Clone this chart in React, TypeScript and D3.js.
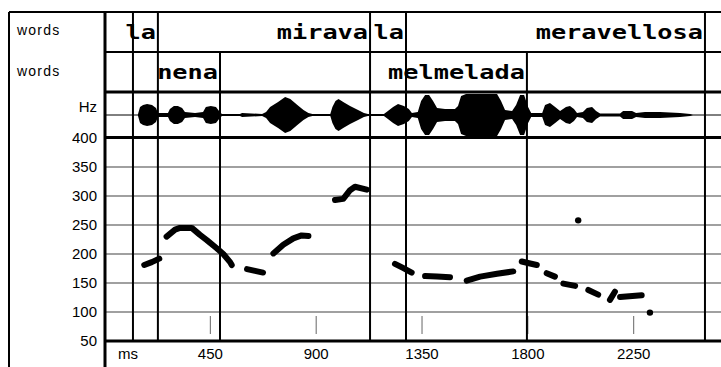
import * as d3 from "d3";

// word tiers (ms)
const TIER1_BOUNDS = [121, 227, 1129, 1282, 2553];
const TIER1_WORDS = [
  { word: "la", end: 227 },
  { word: "mirava", end: 1129 },
  { word: "la", end: 1282 },
  { word: "meravellosa", end: 2553 },
];
const TIER2_BOUNDS = [121, 227, 491, 1129, 1282, 1796, 2553];
const TIER2_WORDS = [
  { word: "nena", end: 491 },
  { word: "melmelada", end: 1796 },
];

const MS_TICKS = [450, 900, 1350, 1800, 2250];
const HZ_TICKS = [50, 100, 150, 200, 250, 300, 350, 400];

// waveform envelope (ms, relative amplitude 0-100)
const ENV_MS = [
  142, 151, 164, 181, 202, 219, 227, 270, 278, 295, 312, 330, 342, 385, 419, 431, 452, 474, 487, 499,
  576, 585, 670, 687, 704, 738, 768, 790, 820, 846, 867, 884, 960, 969, 982, 995, 1015, 1044, 1078, 1103,
  1120, 1188, 1205, 1227, 1248, 1273, 1294, 1307, 1332, 1346, 1363, 1380, 1397, 1414, 1448, 1490, 1503, 1516, 1537, 1563,
  1597, 1639, 1669, 1686, 1703, 1733, 1750, 1767, 1784, 1801, 1814, 1861, 1873, 1894, 1916, 1937, 1962, 1979, 1996, 2009,
  2034, 2051, 2073, 2090, 2107, 2192, 2205, 2243, 2260, 2298, 2362, 2447, 2490, 2502,
];
const ENV_AMP = [
  2, 38, 48, 52, 48, 33, 10, 10, 29, 43, 43, 33, 14, 10, 14, 38, 43, 38, 19, 5,
  5, 10, 5, 14, 38, 62, 86, 76, 48, 24, 10, 5, 5, 38, 67, 76, 62, 43, 24, 10,
  5, 5, 19, 38, 52, 43, 29, 10, 14, 67, 95, 95, 67, 33, 29, 29, 43, 90, 100, 100,
  100, 100, 100, 67, 24, 19, 48, 95, 95, 38, 10, 10, 48, 57, 38, 19, 38, 43, 29, 10,
  14, 33, 38, 19, 7, 7, 19, 19, 10, 14, 14, 10, 5, 0,
];

// pitch track (ms, Hz)
const PITCH_SEGMENTS: [number, number][][] = [
  [[169, 181], [201, 186], [233, 192]],
  [[264, 230], [300, 242], [321, 245], [371, 245], [406, 233], [435, 224], [477, 210], [505, 200], [534, 186], [541, 181]],
  [[606, 174], [640, 171], [674, 168]],
  [[718, 201], [760, 216], [803, 227], [838, 232], [867, 231]],
  [[980, 293], [1015, 295], [1044, 310], [1065, 316], [1115, 311]],
  [[1235, 183], [1269, 176], [1306, 168]],
  [[1363, 162], [1414, 161], [1469, 160]],
  [[1540, 154], [1597, 161], [1669, 166], [1738, 170]],
  [[1774, 187], [1805, 184], [1838, 181]],
  [[1880, 167], [1915, 161]],
  [[1951, 149], [2001, 145]],
  [[2057, 138], [2099, 130]],
  [[2149, 121], [2170, 135]],
  [[2192, 126], [2284, 129]],
];
const PITCH_DOTS: [number, number][] = [[2014, 258], [2319, 99]];

export default function App() {
  const W = 721, H = 367;
  const frameL = 9, frameT = 12, plotL = 105;
  const row1 = [12, 52], row2 = [52, 92], wave = [92, 137.5], pitchB = 341;
  const midY = 115;

  const x = d3.scaleLinear().domain([0, 2700]).range([104.5, 104.5 + 2700 * 0.2352]);
  const y = d3.scaleLinear().domain([50, 400]).range([pitchB, 138]);
  const amp = d3.scaleLinear().domain([0, 100]).range([0, 21]);

  const env = ENV_MS.map((m, i) => [m, ENV_AMP[i]] as [number, number]);
  const area = d3.area<[number, number]>()
    .x(d => x(d[0])).y0(d => midY + amp(d[1])).y1(d => midY - amp(d[1]));
  const line = d3.line<[number, number]>().x(d => x(d[0])).y(d => y(d[1]));

  const allBounds = Array.from(new Set([...TIER1_BOUNDS, ...TIER2_BOUNDS])).sort((a, b) => a - b);
  const sans = "'Liberation Sans', Arial, sans-serif";
  const mono = "'DejaVu Sans Mono', monospace";

  const word = (w: string, end: number, base: number, k: string) => (
    <text key={k} transform={`translate(${x(end) - 2},${base}) scale(1.33,1)`} textAnchor="end"
      fontFamily={mono} fontWeight="bold" fontSize={19} fill="#000">{w}</text>
  );

  return (
    <div style={{ position: "absolute", left: 0, top: 0 }}>
      <svg width={W} height={H} style={{ display: "block", background: "#fff" }}>
        {/* pitch grid */}
        {HZ_TICKS.filter(v => v > 50 && v < 400).map(v => (
          <line key={v} x1={plotL} x2={W} y1={y(v)} y2={y(v)} stroke="#808080" strokeWidth={1.6} />
        ))}
        {/* small ms ticks */}
        {MS_TICKS.map(t => (
          <line key={t} x1={x(t)} x2={x(t)} y1={316} y2={334} stroke="#666" strokeWidth={1} />
        ))}

        {/* boundaries */}
        {TIER1_BOUNDS.map(b => (
          <line key={"t1" + b} x1={x(b)} x2={x(b)} y1={row1[0]} y2={row1[1]} stroke="#000" strokeWidth={2} />
        ))}
        {TIER2_BOUNDS.map(b => (
          <line key={"t2" + b} x1={x(b)} x2={x(b)} y1={row2[0]} y2={row2[1]} stroke="#000" strokeWidth={2} />
        ))}
        {allBounds.map(b => (
          <line key={"w" + b} x1={x(b)} x2={x(b)} y1={wave[0]} y2={pitchB} stroke="#000" strokeWidth={2} />
        ))}

        {/* waveform */}
        <line x1={plotL} x2={W} y1={midY} y2={midY} stroke="#000" strokeWidth={1} />
        <path d={area(env) ?? ""} fill="#000" />

        {/* frame + row separators */}
        <line x1={frameL} x2={W} y1={frameT} y2={frameT} stroke="#000" strokeWidth={2} />
        <line x1={frameL} x2={frameL} y1={frameT} y2={H} stroke="#000" strokeWidth={2} />
        <line x1={plotL} x2={plotL} y1={frameT} y2={H} stroke="#000" strokeWidth={3} />
        <line x1={plotL} x2={W} y1={row1[1]} y2={row1[1]} stroke="#000" strokeWidth={2} />
        <line x1={plotL} x2={W} y1={row2[1]} y2={row2[1]} stroke="#000" strokeWidth={3} />
        <line x1={plotL} x2={W} y1={wave[1]} y2={wave[1]} stroke="#000" strokeWidth={3} />
        <line x1={plotL} x2={W} y1={pitchB} y2={pitchB} stroke="#000" strokeWidth={3} />

        {/* words */}
        {TIER1_WORDS.map((d, i) => word(d.word, d.end, 38.5, "a" + i))}
        {TIER2_WORDS.map((d, i) => word(d.word, d.end, 79, "b" + i))}

        {/* pitch */}
        {PITCH_SEGMENTS.map((s, i) => (
          <path key={i} d={line(s) ?? ""} fill="none" stroke="#000" strokeWidth={6}
            strokeLinecap="round" strokeLinejoin="round" />
        ))}
        {PITCH_DOTS.map((d, i) => (
          <circle key={i} cx={x(d[0])} cy={y(d[1])} r={3.2} fill="#000" />
        ))}

        {/* labels */}
        <text x={17} y={35} fontFamily={sans} fontSize={14} letterSpacing={1.2}>words</text>
        <text x={17} y={76} fontFamily={sans} fontSize={14} letterSpacing={1.2}>words</text>
        <text x={97} y={112} textAnchor="end" fontFamily={sans} fontSize={15}>Hz</text>
        {HZ_TICKS.map(v => (
          <text key={v} x={97} y={y(v) + 5} textAnchor="end" fontFamily={sans} fontSize={15}>{v}</text>
        ))}
        <text x={128} y={359} textAnchor="middle" fontFamily={sans} fontSize={15}>ms</text>
        {MS_TICKS.map(t => (
          <text key={t} x={x(t)} y={359} textAnchor="middle" fontFamily={sans} fontSize={15}>{t}</text>
        ))}
      </svg>
    </div>
  );
}
